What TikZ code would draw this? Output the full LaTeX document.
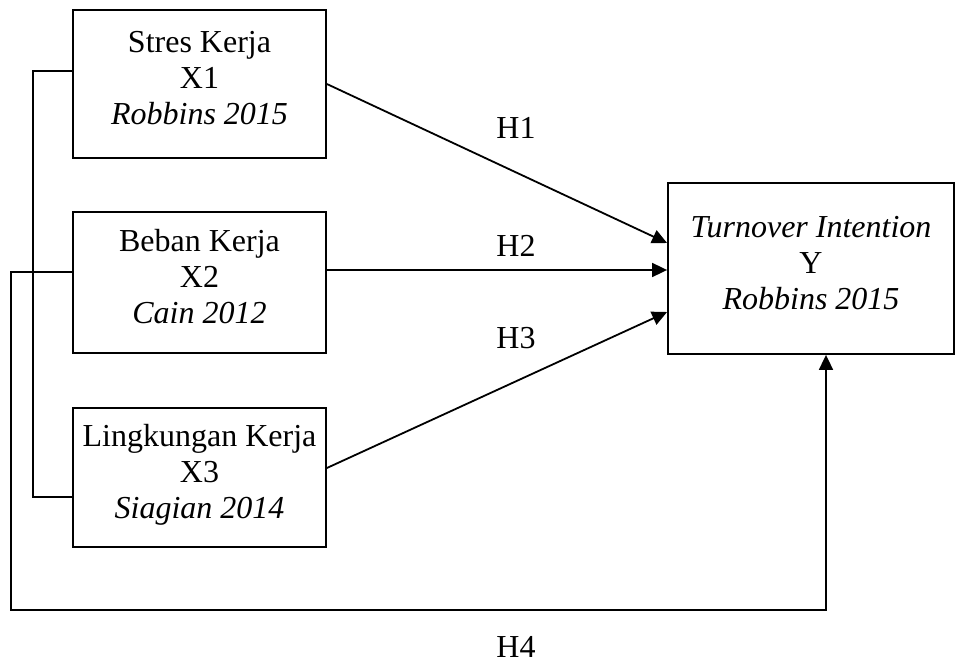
\documentclass[tikz,border=0pt]{standalone}
\usepackage{fontspec}
\setmainfont{Liberation Serif}
\usetikzlibrary{arrows.meta}

\begin{document}
\begin{tikzpicture}[
  x=0.5pt, y=-0.5pt,
  every node/.style={align=center, font=\fontsize{16}{18}\selectfont},
  varbox/.style={draw, line width=0.9pt, inner sep=0pt,
                 minimum width=126.5pt, text depth=6pt},
  flow/.style={-{Triangle[length=7.5pt,width=7pt]}, line width=0.9pt},
  link/.style={line width=0.9pt},
  hlabel/.style={inner sep=0pt},
]
\useasboundingbox (0,0) rectangle (955,664);

% ---------- independent variables ----------
\node[varbox, minimum height=74pt] (x1) at (199.5,84)
  {Stres Kerja\\X1\\\textit{Robbins 2015}};
\node[varbox, minimum height=70.5pt] (x2) at (199.5,282.5)
  {Beban Kerja\\X2\\\textit{Cain 2012}};
\node[varbox, minimum height=69.5pt] (x3) at (199.5,477.5)
  {Lingkungan Kerja\\X3\\\textit{Siagian 2014}};

% ---------- dependent variable ----------
\node[varbox, minimum width=143pt, minimum height=85.5pt] (y) at (811,268.5)
  {\textit{Turnover Intention}\\Y\\\textit{Robbins 2015}};

% ---------- hypotheses ----------
\node[hlabel] (h1) at (516,128) {H1};
\node[hlabel] (h2) at (516,246) {H2};
\node[hlabel] (h3) at (516,338) {H3};
\node[hlabel] (h4) at (516,647) {H4};

% ---------- arrows ----------
\draw[flow] (x1.east) -- ([yshift=12.75pt]y.west);
\draw[flow] ([yshift=6.25pt]x2.east) -- ([yshift=-0.75pt]y.west);
\draw[flow] ([yshift=4.75pt]x3.east) -- ([yshift=-21.75pt]y.west);

% ---------- simultaneous path (H4) ----------
\coordinate (c1) at (33,497);
\coordinate (c4) at (11,610);
\draw[link] ([yshift=6.5pt]x1.west) -| (c1) -- ([yshift=-9.75pt]x3.west);
\draw[flow] ([yshift=5.25pt]x2.west) -| (c4) -| ([xshift=7.5pt]y.south);

\end{tikzpicture}
\end{document}
